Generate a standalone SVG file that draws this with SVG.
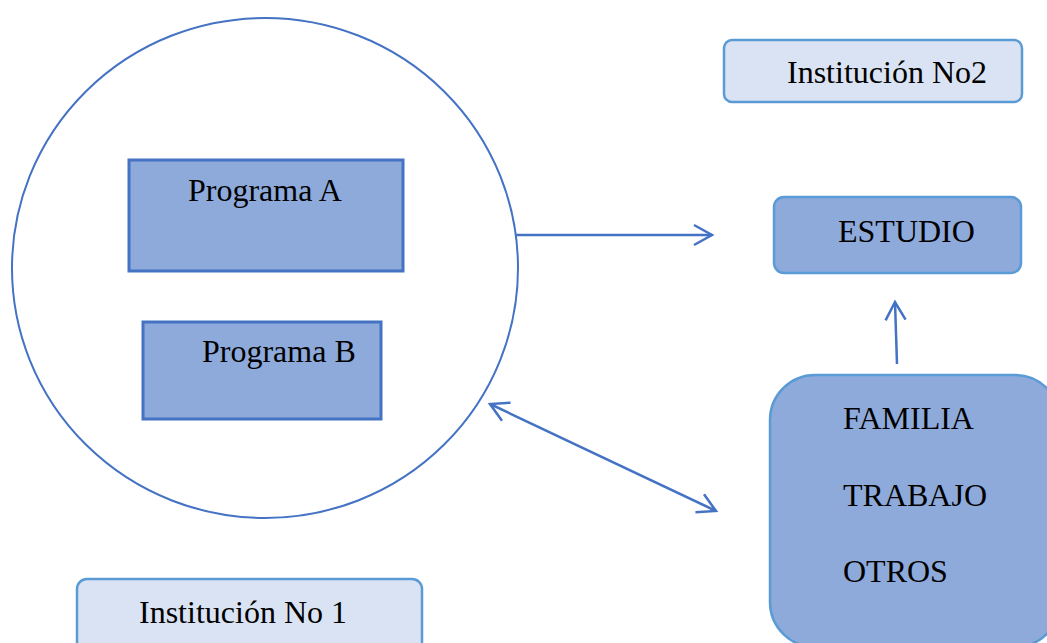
<svg xmlns="http://www.w3.org/2000/svg" width="1047" height="643" viewBox="0 0 1047 643">
<style>
text{font-family:"Liberation Serif","Times New Roman",serif;font-size:32px;fill:#000}
.prog{fill:#8eaadb;stroke:#4472c4;stroke-width:3}
.dark{fill:#8eaadb;stroke:#5b9bd5;stroke-width:2.5}
.light{fill:#dae3f3;stroke:#5b9bd5;stroke-width:2.5}
.conn{fill:none;stroke:#4472c4;stroke-width:2.5}
</style>
<defs>
<marker id="arr" viewBox="-20 -12 23 24" markerWidth="23" markerHeight="24" markerUnits="userSpaceOnUse" refX="0" refY="0" orient="auto-start-reverse">
<path d="M-18,-10 L0,0 L-18,10" fill="none" stroke="#4472c4" stroke-width="2.5"/>
</marker>
</defs>
<rect width="1047" height="643" fill="#fff"/>
<g id="circle">
<ellipse cx="265" cy="268" rx="253" ry="250" fill="none" stroke="#4472c4" stroke-width="2"/>
</g>
<g id="programa-a">
<rect class="prog" x="129" y="160" width="274" height="111"/>
<text x="188" y="201">Programa A</text>
</g>
<g id="programa-b">
<rect class="prog" x="143" y="322" width="238" height="97"/>
<text x="202" y="362">Programa B</text>
</g>
<g id="institucion-2">
<rect class="light" x="724" y="40" width="298" height="62" rx="8"/>
<text x="787" y="83">Institución No2</text>
</g>
<g id="estudio">
<rect class="dark" x="774" y="197" width="247" height="76" rx="10"/>
<text x="838" y="242">ESTUDIO</text>
</g>
<g id="familia">
<rect class="dark" x="770" y="375" width="290" height="272" rx="45"/>
<text x="843" y="429">FAMILIA</text>
<text x="843" y="506">TRABAJO</text>
<text x="843" y="582">OTROS</text>
</g>
<g id="institucion-1">
<rect class="light" x="77" y="579" width="345" height="80" rx="10"/>
<text x="139" y="623">Institución No 1</text>
</g>
<g id="connectors">
<line class="conn" x1="516" y1="235" x2="712" y2="235" marker-end="url(#arr)"/>
<line class="conn" x1="897" y1="364" x2="895" y2="302" marker-end="url(#arr)"/>
<line class="conn" x1="490" y1="404" x2="716" y2="511" marker-start="url(#arr)" marker-end="url(#arr)"/>
</g>
</svg>
